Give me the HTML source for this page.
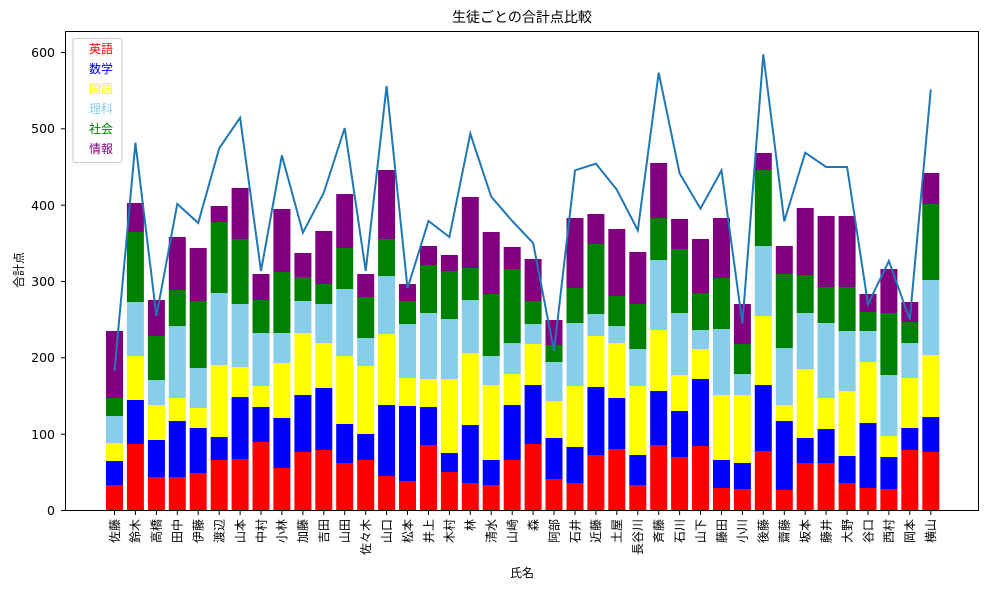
<!DOCTYPE html>
<html><head><meta charset="utf-8"><style>
body{margin:0;background:#fff}
svg{display:block;font-family:"DejaVu Sans","Noto Sans CJK JP",sans-serif}
.r{fill:#f00}.b{fill:#00f}.y{fill:#ff0}.s{fill:#87ceeb}.g{fill:#008000}.p{fill:#800080}
</style></head><body>
<svg width="989" height="590" viewBox="0 0 989 590" xmlns="http://www.w3.org/2000/svg">
<rect width="989" height="590" fill="#fff"/>
<g transform="translate(0,30) scale(1,0.333333)">
<g transform="translate(106,0)"><rect class="r" y="1365" height="75" width="17"/><rect class="b" y="1293" height="72" width="17"/><rect class="y" y="1239" height="54" width="17"/><rect class="s" y="1158" height="81" width="17"/><rect class="g" y="1104" height="54" width="17"/><rect class="p" y="903" height="201" width="17"/></g>
<g transform="translate(126.9,0)"><rect class="r" y="1242" height="198" width="17"/><rect class="b" y="1110" height="132" width="17"/><rect class="y" y="978" height="132" width="17"/><rect class="s" y="816" height="162" width="17"/><rect class="g" y="606" height="210" width="17"/><rect class="p" y="519" height="87" width="17"/></g>
<g transform="translate(147.9,0)"><rect class="r" y="1341" height="99" width="17"/><rect class="b" y="1230" height="111" width="17"/><rect class="y" y="1125" height="105" width="17"/><rect class="s" y="1050" height="75" width="17"/><rect class="g" y="918" height="132" width="17"/><rect class="p" y="810" height="108" width="17"/></g>
<g transform="translate(168.8,0)"><rect class="r" y="1341" height="99" width="17"/><rect class="b" y="1173" height="168" width="17"/><rect class="y" y="1104" height="69" width="17"/><rect class="s" y="888" height="216" width="17"/><rect class="g" y="780" height="108" width="17"/><rect class="p" y="621" height="159" width="17"/></g>
<g transform="translate(189.7,0)"><rect class="r" y="1329" height="111" width="17"/><rect class="b" y="1194" height="135" width="17"/><rect class="y" y="1134" height="60" width="17"/><rect class="s" y="1014" height="120" width="17"/><rect class="g" y="813" height="201" width="17"/><rect class="p" y="654" height="159" width="17"/></g>
<g transform="translate(210.7,0)"><rect class="r" y="1290" height="150" width="17"/><rect class="b" y="1221" height="69" width="17"/><rect class="y" y="1005" height="216" width="17"/><rect class="s" y="789" height="216" width="17"/><rect class="g" y="576" height="213" width="17"/><rect class="p" y="528" height="48" width="17"/></g>
<g transform="translate(231.6,0)"><rect class="r" y="1287" height="153" width="17"/><rect class="b" y="1101" height="186" width="17"/><rect class="y" y="1011" height="90" width="17"/><rect class="s" y="822" height="189" width="17"/><rect class="g" y="627" height="195" width="17"/><rect class="p" y="474" height="153" width="17"/></g>
<g transform="translate(252.5,0)"><rect class="r" y="1236" height="204" width="17"/><rect class="b" y="1131" height="105" width="17"/><rect class="y" y="1068" height="63" width="17"/><rect class="s" y="909" height="159" width="17"/><rect class="g" y="810" height="99" width="17"/><rect class="p" y="732" height="78" width="17"/></g>
<g transform="translate(273.4,0)"><rect class="r" y="1314" height="126" width="17"/><rect class="b" y="1164" height="150" width="17"/><rect class="y" y="999" height="165" width="17"/><rect class="s" y="909" height="90" width="17"/><rect class="g" y="726" height="183" width="17"/><rect class="p" y="537" height="189" width="17"/></g>
<g transform="translate(294.4,0)"><rect class="r" y="1266" height="174" width="17"/><rect class="b" y="1095" height="171" width="17"/><rect class="y" y="909" height="186" width="17"/><rect class="s" y="813" height="96" width="17"/><rect class="g" y="743" height="70" width="17"/><rect class="p" y="669" height="74" width="17"/></g>
<g transform="translate(315.3,0)"><rect class="r" y="1260" height="180" width="17"/><rect class="b" y="1074" height="186" width="17"/><rect class="y" y="939" height="135" width="17"/><rect class="s" y="822" height="117" width="17"/><rect class="g" y="762" height="60" width="17"/><rect class="p" y="603" height="159" width="17"/></g>
<g transform="translate(336.2,0)"><rect class="r" y="1299" height="141" width="17"/><rect class="b" y="1182" height="117" width="17"/><rect class="y" y="978" height="204" width="17"/><rect class="s" y="777" height="201" width="17"/><rect class="g" y="654" height="123" width="17"/><rect class="p" y="492" height="162" width="17"/></g>
<g transform="translate(357.2,0)"><rect class="r" y="1290" height="150" width="17"/><rect class="b" y="1212" height="78" width="17"/><rect class="y" y="1008" height="204" width="17"/><rect class="s" y="924" height="84" width="17"/><rect class="g" y="801" height="123" width="17"/><rect class="p" y="732" height="69" width="17"/></g>
<g transform="translate(378.1,0)"><rect class="r" y="1338" height="102" width="17"/><rect class="b" y="1125" height="213" width="17"/><rect class="y" y="912" height="213" width="17"/><rect class="s" y="738" height="174" width="17"/><rect class="g" y="627" height="111" width="17"/><rect class="p" y="420" height="207" width="17"/></g>
<g transform="translate(399,0)"><rect class="r" y="1353" height="87" width="17"/><rect class="b" y="1128" height="225" width="17"/><rect class="y" y="1044" height="84" width="17"/><rect class="s" y="882" height="162" width="17"/><rect class="g" y="813" height="69" width="17"/><rect class="p" y="762" height="51" width="17"/></g>
<g transform="translate(420,0)"><rect class="r" y="1245" height="195" width="17"/><rect class="b" y="1131" height="114" width="17"/><rect class="y" y="1047" height="84" width="17"/><rect class="s" y="849" height="198" width="17"/><rect class="g" y="705" height="144" width="17"/><rect class="p" y="648" height="57" width="17"/></g>
<g transform="translate(440.9,0)"><rect class="r" y="1326" height="114" width="17"/><rect class="b" y="1269" height="57" width="17"/><rect class="y" y="1047" height="222" width="17"/><rect class="s" y="867" height="180" width="17"/><rect class="g" y="723" height="144" width="17"/><rect class="p" y="675" height="48" width="17"/></g>
<g transform="translate(461.8,0)"><rect class="r" y="1359" height="81" width="17"/><rect class="b" y="1185" height="174" width="17"/><rect class="y" y="969" height="216" width="17"/><rect class="s" y="810" height="159" width="17"/><rect class="g" y="714" height="96" width="17"/><rect class="p" y="501" height="213" width="17"/></g>
<g transform="translate(482.7,0)"><rect class="r" y="1365" height="75" width="17"/><rect class="b" y="1290" height="75" width="17"/><rect class="y" y="1065" height="225" width="17"/><rect class="s" y="978" height="87" width="17"/><rect class="g" y="792" height="186" width="17"/><rect class="p" y="606" height="186" width="17"/></g>
<g transform="translate(503.7,0)"><rect class="r" y="1290" height="150" width="17"/><rect class="b" y="1125" height="165" width="17"/><rect class="y" y="1032" height="93" width="17"/><rect class="s" y="939" height="93" width="17"/><rect class="g" y="717" height="222" width="17"/><rect class="p" y="651" height="66" width="17"/></g>
<g transform="translate(524.6,0)"><rect class="r" y="1242" height="198" width="17"/><rect class="b" y="1065" height="177" width="17"/><rect class="y" y="942" height="123" width="17"/><rect class="s" y="882" height="60" width="17"/><rect class="g" y="813" height="69" width="17"/><rect class="p" y="687" height="126" width="17"/></g>
<g transform="translate(545.5,0)"><rect class="r" y="1347" height="93" width="17"/><rect class="b" y="1224" height="123" width="17"/><rect class="y" y="1113" height="111" width="17"/><rect class="s" y="996" height="117" width="17"/><rect class="g" y="945" height="51" width="17"/><rect class="p" y="870" height="75" width="17"/></g>
<g transform="translate(566.5,0)"><rect class="r" y="1359" height="81" width="17"/><rect class="b" y="1251" height="108" width="17"/><rect class="y" y="1068" height="183" width="17"/><rect class="s" y="879" height="189" width="17"/><rect class="g" y="774" height="105" width="17"/><rect class="p" y="564" height="210" width="17"/></g>
<g transform="translate(587.4,0)"><rect class="r" y="1275" height="165" width="17"/><rect class="b" y="1071" height="204" width="17"/><rect class="y" y="918" height="153" width="17"/><rect class="s" y="852" height="66" width="17"/><rect class="g" y="642" height="210" width="17"/><rect class="p" y="552" height="90" width="17"/></g>
<g transform="translate(608.3,0)"><rect class="r" y="1257" height="183" width="17"/><rect class="b" y="1104" height="153" width="17"/><rect class="y" y="939" height="165" width="17"/><rect class="s" y="888" height="51" width="17"/><rect class="g" y="798" height="90" width="17"/><rect class="p" y="597" height="201" width="17"/></g>
<g transform="translate(629.3,0)"><rect class="r" y="1365" height="75" width="17"/><rect class="b" y="1275" height="90" width="17"/><rect class="y" y="1068" height="207" width="17"/><rect class="s" y="957" height="111" width="17"/><rect class="g" y="822" height="135" width="17"/><rect class="p" y="666" height="156" width="17"/></g>
<g transform="translate(650.2,0)"><rect class="r" y="1245" height="195" width="17"/><rect class="b" y="1083" height="162" width="17"/><rect class="y" y="900" height="183" width="17"/><rect class="s" y="690" height="210" width="17"/><rect class="g" y="564" height="126" width="17"/><rect class="p" y="399" height="165" width="17"/></g>
<g transform="translate(671.1,0)"><rect class="r" y="1281" height="159" width="17"/><rect class="b" y="1143" height="138" width="17"/><rect class="y" y="1035" height="108" width="17"/><rect class="s" y="849" height="186" width="17"/><rect class="g" y="657" height="192" width="17"/><rect class="p" y="567" height="90" width="17"/></g>
<g transform="translate(692,0)"><rect class="r" y="1248" height="192" width="17"/><rect class="b" y="1047" height="201" width="17"/><rect class="y" y="957" height="90" width="17"/><rect class="s" y="900" height="57" width="17"/><rect class="g" y="789" height="111" width="17"/><rect class="p" y="627" height="162" width="17"/></g>
<g transform="translate(713,0)"><rect class="r" y="1374" height="66" width="17"/><rect class="b" y="1290" height="84" width="17"/><rect class="y" y="1095" height="195" width="17"/><rect class="s" y="897" height="198" width="17"/><rect class="g" y="744" height="153" width="17"/><rect class="p" y="564" height="180" width="17"/></g>
<g transform="translate(733.9,0)"><rect class="r" y="1377" height="63" width="17"/><rect class="b" y="1299" height="78" width="17"/><rect class="y" y="1095" height="204" width="17"/><rect class="s" y="1032" height="63" width="17"/><rect class="g" y="942" height="90" width="17"/><rect class="p" y="822" height="120" width="17"/></g>
<g transform="translate(754.8,0)"><rect class="r" y="1263" height="177" width="17"/><rect class="b" y="1065" height="198" width="17"/><rect class="y" y="858" height="207" width="17"/><rect class="s" y="648" height="210" width="17"/><rect class="g" y="420" height="228" width="17"/><rect class="p" y="369" height="51" width="17"/></g>
<g transform="translate(775.8,0)"><rect class="r" y="1380" height="60" width="17"/><rect class="b" y="1173" height="207" width="17"/><rect class="y" y="1125" height="48" width="17"/><rect class="s" y="954" height="171" width="17"/><rect class="g" y="732" height="222" width="17"/><rect class="p" y="648" height="84" width="17"/></g>
<g transform="translate(796.7,0)"><rect class="r" y="1299" height="141" width="17"/><rect class="b" y="1224" height="75" width="17"/><rect class="y" y="1017" height="207" width="17"/><rect class="s" y="849" height="168" width="17"/><rect class="g" y="735" height="114" width="17"/><rect class="p" y="534" height="201" width="17"/></g>
<g transform="translate(817.6,0)"><rect class="r" y="1299" height="141" width="17"/><rect class="b" y="1197" height="102" width="17"/><rect class="y" y="1104" height="93" width="17"/><rect class="s" y="879" height="225" width="17"/><rect class="g" y="771" height="108" width="17"/><rect class="p" y="558" height="213" width="17"/></g>
<g transform="translate(838.6,0)"><rect class="r" y="1359" height="81" width="17"/><rect class="b" y="1278" height="81" width="17"/><rect class="y" y="1083" height="195" width="17"/><rect class="s" y="903" height="180" width="17"/><rect class="g" y="771" height="132" width="17"/><rect class="p" y="558" height="213" width="17"/></g>
<g transform="translate(859.5,0)"><rect class="r" y="1374" height="66" width="17"/><rect class="b" y="1179" height="195" width="17"/><rect class="y" y="996" height="183" width="17"/><rect class="s" y="903" height="93" width="17"/><rect class="g" y="846" height="57" width="17"/><rect class="p" y="792" height="54" width="17"/></g>
<g transform="translate(880.4,0)"><rect class="r" y="1377" height="63" width="17"/><rect class="b" y="1281" height="96" width="17"/><rect class="y" y="1218" height="63" width="17"/><rect class="s" y="1035" height="183" width="17"/><rect class="g" y="849" height="186" width="17"/><rect class="p" y="717" height="132" width="17"/></g>
<g transform="translate(901.3,0)"><rect class="r" y="1260" height="180" width="17"/><rect class="b" y="1194" height="66" width="17"/><rect class="y" y="1044" height="150" width="17"/><rect class="s" y="939" height="105" width="17"/><rect class="g" y="876" height="63" width="17"/><rect class="p" y="816" height="60" width="17"/></g>
<g transform="translate(922.3,0)"><rect class="r" y="1266" height="174" width="17"/><rect class="b" y="1161" height="105" width="17"/><rect class="y" y="975" height="186" width="17"/><rect class="s" y="750" height="225" width="17"/><rect class="g" y="522" height="228" width="17"/><rect class="p" y="429" height="93" width="17"/></g>
<polyline fill="none" stroke="#1f77b4" stroke-width="2" vector-effect="non-scaling-stroke" points="114.5,1023 135.4,338 156.4,858 177.3,522 198.2,579 219.2,355 240.1,263 261,723 281.9,376 302.9,608 323.8,488 344.7,294 365.7,723 386.6,168 407.5,775 428.5,573 449.4,621 470.3,311 491.2,500 512.2,573 533.1,639 554,963 575,421 595.9,401 616.8,479 637.8,601 658.7,128 679.6,430 700.5,536 721.5,421 742.4,881 763.3,73 784.3,574 805.2,368 826.1,411 847.1,411 868,823 888.9,693 909.8,869 930.8,178"/>
</g>
<rect x="65.5" y="31.5" width="913" height="479" fill="none" stroke="#000" stroke-width="1"/>
<g stroke="#000" stroke-width="1">
<line x1="61" x2="65" y1="510.5" y2="510.5"/><line x1="61" x2="65" y1="434.2" y2="434.2"/><line x1="61" x2="65" y1="357.8" y2="357.8"/><line x1="61" x2="65" y1="281.5" y2="281.5"/><line x1="61" x2="65" y1="205.2" y2="205.2"/><line x1="61" x2="65" y1="128.8" y2="128.8"/><line x1="61" x2="65" y1="52.5" y2="52.5"/>
</g>
<g font-size="12.5" text-anchor="end" fill="#000">
<text x="55" y="515">0</text><text x="55" y="439">100</text><text x="55" y="362">200</text><text x="55" y="286">300</text><text x="55" y="210">400</text><text x="55" y="133">500</text><text x="55" y="57">600</text>
</g>
<g stroke="#000" stroke-width="1">
<line x1="114.5" x2="114.5" y1="511" y2="515"/><line x1="135.4" x2="135.4" y1="511" y2="515"/><line x1="156.4" x2="156.4" y1="511" y2="515"/><line x1="177.3" x2="177.3" y1="511" y2="515"/><line x1="198.2" x2="198.2" y1="511" y2="515"/><line x1="219.2" x2="219.2" y1="511" y2="515"/><line x1="240.1" x2="240.1" y1="511" y2="515"/><line x1="261" x2="261" y1="511" y2="515"/><line x1="281.9" x2="281.9" y1="511" y2="515"/><line x1="302.9" x2="302.9" y1="511" y2="515"/><line x1="323.8" x2="323.8" y1="511" y2="515"/><line x1="344.7" x2="344.7" y1="511" y2="515"/><line x1="365.7" x2="365.7" y1="511" y2="515"/><line x1="386.6" x2="386.6" y1="511" y2="515"/><line x1="407.5" x2="407.5" y1="511" y2="515"/><line x1="428.5" x2="428.5" y1="511" y2="515"/><line x1="449.4" x2="449.4" y1="511" y2="515"/><line x1="470.3" x2="470.3" y1="511" y2="515"/><line x1="491.2" x2="491.2" y1="511" y2="515"/><line x1="512.2" x2="512.2" y1="511" y2="515"/><line x1="533.1" x2="533.1" y1="511" y2="515"/><line x1="554" x2="554" y1="511" y2="515"/><line x1="575" x2="575" y1="511" y2="515"/><line x1="595.9" x2="595.9" y1="511" y2="515"/><line x1="616.8" x2="616.8" y1="511" y2="515"/><line x1="637.8" x2="637.8" y1="511" y2="515"/><line x1="658.7" x2="658.7" y1="511" y2="515"/><line x1="679.6" x2="679.6" y1="511" y2="515"/><line x1="700.5" x2="700.5" y1="511" y2="515"/><line x1="721.5" x2="721.5" y1="511" y2="515"/><line x1="742.4" x2="742.4" y1="511" y2="515"/><line x1="763.3" x2="763.3" y1="511" y2="515"/><line x1="784.3" x2="784.3" y1="511" y2="515"/><line x1="805.2" x2="805.2" y1="511" y2="515"/><line x1="826.1" x2="826.1" y1="511" y2="515"/><line x1="847.1" x2="847.1" y1="511" y2="515"/><line x1="868" x2="868" y1="511" y2="515"/><line x1="888.9" x2="888.9" y1="511" y2="515"/><line x1="909.8" x2="909.8" y1="511" y2="515"/><line x1="930.8" x2="930.8" y1="511" y2="515"/>
</g>
<g font-size="12" text-anchor="end" fill="#000">
<text transform="translate(118.8,519) rotate(-90)">佐藤</text>
<text transform="translate(139.7,519) rotate(-90)">鈴木</text>
<text transform="translate(160.7,519) rotate(-90)">高橋</text>
<text transform="translate(181.6,519) rotate(-90)">田中</text>
<text transform="translate(202.5,519) rotate(-90)">伊藤</text>
<text transform="translate(223.5,519) rotate(-90)">渡辺</text>
<text transform="translate(244.4,519) rotate(-90)">山本</text>
<text transform="translate(265.3,519) rotate(-90)">中村</text>
<text transform="translate(286.2,519) rotate(-90)">小林</text>
<text transform="translate(307.2,519) rotate(-90)">加藤</text>
<text transform="translate(328.1,519) rotate(-90)">吉田</text>
<text transform="translate(349,519) rotate(-90)">山田</text>
<text transform="translate(370,519) rotate(-90)">佐々木</text>
<text transform="translate(390.9,519) rotate(-90)">山口</text>
<text transform="translate(411.8,519) rotate(-90)">松本</text>
<text transform="translate(432.8,519) rotate(-90)">井上</text>
<text transform="translate(453.7,519) rotate(-90)">木村</text>
<text transform="translate(474.6,519) rotate(-90)">林</text>
<text transform="translate(495.5,519) rotate(-90)">清水</text>
<text transform="translate(516.5,519) rotate(-90)">山崎</text>
<text transform="translate(537.4,519) rotate(-90)">森</text>
<text transform="translate(558.3,519) rotate(-90)">阿部</text>
<text transform="translate(579.3,519) rotate(-90)">石井</text>
<text transform="translate(600.2,519) rotate(-90)">近藤</text>
<text transform="translate(621.1,519) rotate(-90)">土屋</text>
<text transform="translate(642.1,519) rotate(-90)">長谷川</text>
<text transform="translate(663,519) rotate(-90)">斉藤</text>
<text transform="translate(683.9,519) rotate(-90)">石川</text>
<text transform="translate(704.8,519) rotate(-90)">山下</text>
<text transform="translate(725.8,519) rotate(-90)">藤田</text>
<text transform="translate(746.7,519) rotate(-90)">小川</text>
<text transform="translate(767.6,519) rotate(-90)">後藤</text>
<text transform="translate(788.6,519) rotate(-90)">齋藤</text>
<text transform="translate(809.5,519) rotate(-90)">坂本</text>
<text transform="translate(830.4,519) rotate(-90)">藤井</text>
<text transform="translate(851.4,519) rotate(-90)">大野</text>
<text transform="translate(872.3,519) rotate(-90)">谷口</text>
<text transform="translate(893.2,519) rotate(-90)">西村</text>
<text transform="translate(914.1,519) rotate(-90)">岡本</text>
<text transform="translate(935.1,519) rotate(-90)">横山</text>
</g>
<text x="522" y="577" font-size="12" text-anchor="middle">氏名</text>
<text transform="translate(23,270) rotate(-90)" font-size="12" text-anchor="middle">合計点</text>
<text x="522" y="22" font-size="14" text-anchor="middle">生徒ごとの合計点比較</text>
<rect x="73" y="38.5" width="49" height="124" rx="2" fill="#fff" fill-opacity="0.8" stroke="#ccc" stroke-width="1"/>
<g font-size="12">
<text x="89" y="53" fill="#f00">英語</text>
<text x="89" y="73" fill="#00f">数学</text>
<text x="89" y="93" fill="#ff0">国語</text>
<text x="89" y="113" fill="#87ceeb">理科</text>
<text x="89" y="133" fill="#008000">社会</text>
<text x="89" y="153" fill="#800080">情報</text>
</g>
</svg>
</body></html>
